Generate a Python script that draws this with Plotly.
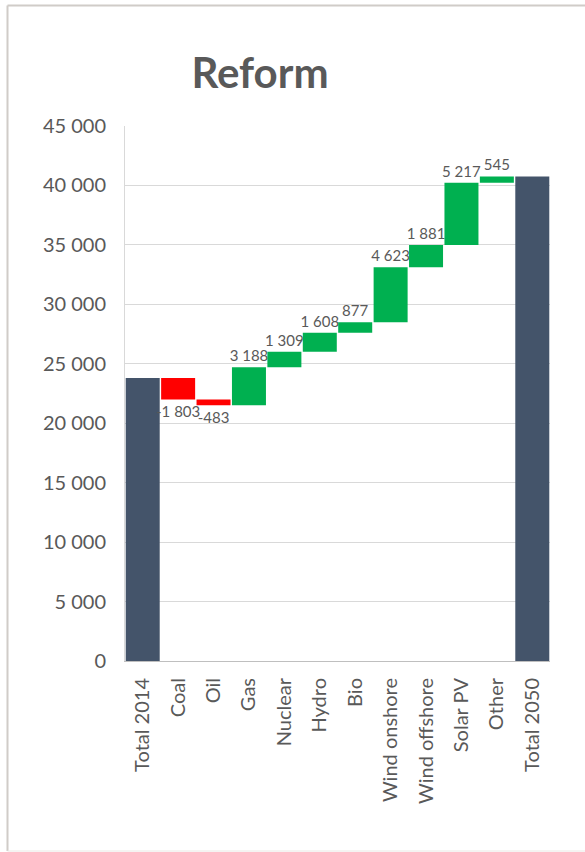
import plotly.graph_objects as go

# Electricity generation bridge, 2014 -> 2050 (Reform scenario)
categories = ["Total 2014", "Coal", "Oil", "Gas", "Nuclear", "Hydro", "Bio",
              "Wind onshore", "Wind offshore", "Solar PV", "Other", "Total 2050"]
values = [23800, -1803, -483, 3188, 1309, 1608, 877, 4623, 1881, 5217, 545, 0]
measures = ["absolute"] + ["relative"] * 10 + ["total"]
y_ticks = list(range(0, 45001, 5000))

GREY_TEXT = "#595959"
FONT = "Lato, 'Open Sans', sans-serif"


def fmt(v):
    return f"{v:,d}".replace(",", "\u00a0")


labels = ["" if m != "relative" else fmt(v) for m, v in zip(measures, values)]

fig = go.Figure(go.Waterfall(
    x=categories,
    y=values,
    measure=measures,
    text=labels,
    textposition="outside",
    constraintext="none",
    textfont=dict(family=FONT, size=15, color=GREY_TEXT),
    cliponaxis=False,
    increasing=dict(marker=dict(color="#00b050", line=dict(width=0))),
    decreasing=dict(marker=dict(color="#ff0000", line=dict(width=0))),
    totals=dict(marker=dict(color="#44546a", line=dict(width=0))),
    connector=dict(visible=False),
    showlegend=False,
))

W, H = 585, 852
L, R, T, B = 125, 35, 126, 191
pw, ph = W - L - R, H - T - B


def px_x(p):
    return (p - L) / pw


def px_y(p):
    return (H - B - p) / ph


# outer chart-area frame
frame = dict(color="#d0ccc8", width=2)
fig.add_shape(type="line", xref="paper", yref="paper",
              x0=px_x(7.5), x1=px_x(600), y0=px_y(5.5), y1=px_y(5.5), line=frame)
fig.add_shape(type="line", xref="paper", yref="paper",
              x0=px_x(7.5), x1=px_x(7.5), y0=px_y(5.5), y1=px_y(851), line=frame)
fig.add_shape(type="line", xref="paper", yref="paper",
              x0=px_x(7.5), x1=px_x(600), y0=px_y(851), y1=px_y(851),
              line=dict(color="#ebe8e5", width=1))

fig.update_layout(
    width=W, height=H,
    margin=dict(l=L, r=R, t=T, b=B),
    paper_bgcolor="white", plot_bgcolor="white",
    separators=".\u00a0",
    waterfallgap=0.04,
    font=dict(family=FONT, color=GREY_TEXT),
    title=dict(text="<b>Reform</b>", x=260 / W, xref="container", xanchor="center",
               y=1 - 73 / H, yref="container", yanchor="middle",
               font=dict(family=FONT, size=42, color=GREY_TEXT)),
    xaxis=dict(
        tickangle=-90, tickfont=dict(family=FONT, size=20, color=GREY_TEXT),
        showline=True, linecolor="#bfbfbf", linewidth=1,
        showgrid=False, ticks="", ticklabelstandoff=8,
    ),
    yaxis=dict(
        range=[0, 45000], tickvals=y_ticks, tickformat=",d",
        tickfont=dict(family=FONT, size=20, color=GREY_TEXT),
        showgrid=True, gridcolor="#d9d9d9", gridwidth=1,
        showline=True, linecolor="#d9d9d9", linewidth=1,
        zeroline=False, ticks="", ticklabelstandoff=14,
    ),
)

fig.write_html("out.html")
